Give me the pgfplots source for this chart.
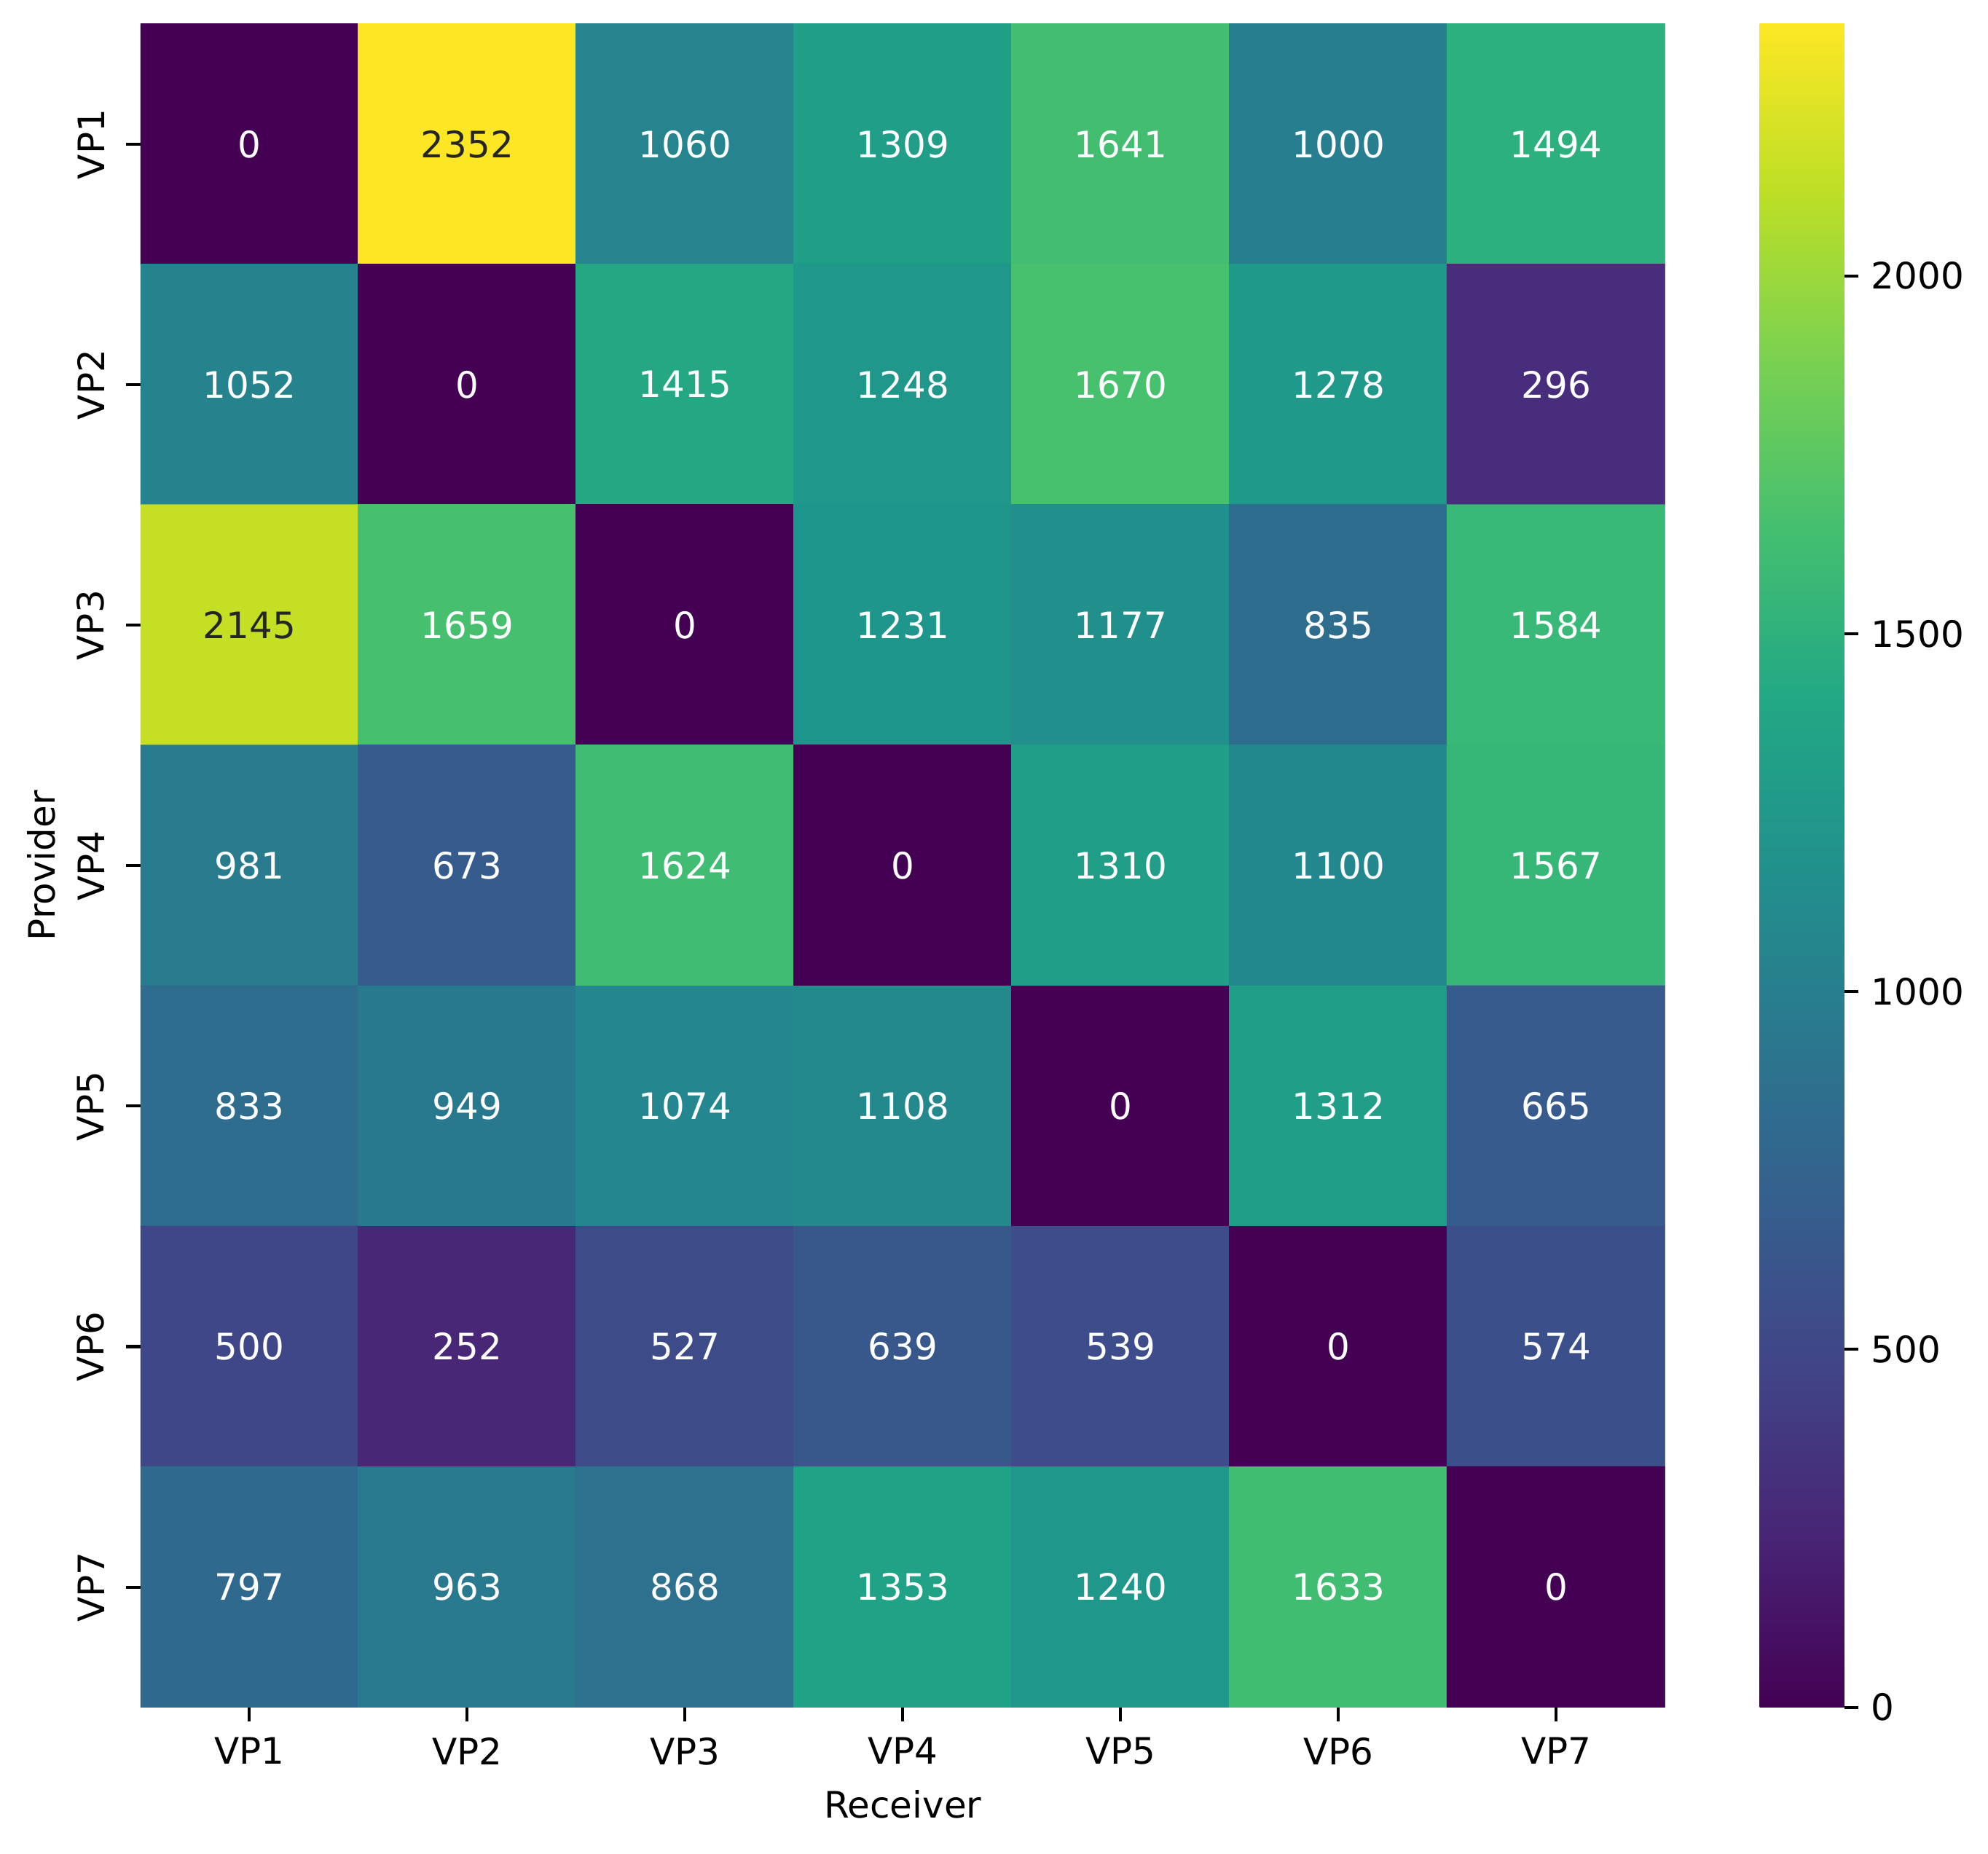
\documentclass[border=0pt]{standalone}
\usepackage{pgfplots}
\pgfplotsset{compat=1.18}
\usepackage{pgfplotstable}
\usepackage{fontspec}
\setmainfont{DejaVu Sans}

\pgfdeclareverticalshading{viridisbar}{100bp}{%
  rgb(0bp)=(0.267,0.004,0.329); rgb(25bp)=(0.267,0.004,0.329);
  rgb(30bp)=(0.282,0.141,0.459); rgb(35bp)=(0.255,0.267,0.529);
  rgb(40bp)=(0.208,0.373,0.553); rgb(45bp)=(0.165,0.471,0.557);
  rgb(50bp)=(0.129,0.569,0.549); rgb(55bp)=(0.133,0.659,0.518);
  rgb(60bp)=(0.267,0.749,0.439); rgb(65bp)=(0.478,0.820,0.318);
  rgb(70bp)=(0.741,0.875,0.149); rgb(75bp)=(0.992,0.906,0.145);
  rgb(100bp)=(0.992,0.906,0.145)}

\pgfplotstableread{
x y c
0 0 0
1 0 2352
2 0 1060
3 0 1309
4 0 1641
5 0 1000
6 0 1494
0 1 1052
1 1 0
2 1 1415
3 1 1248
4 1 1670
5 1 1278
6 1 296
0 2 2145
1 2 1659
2 2 0
3 2 1231
4 2 1177
5 2 835
6 2 1584
0 3 981
1 3 673
2 3 1624
3 3 0
4 3 1310
5 3 1100
6 3 1567
0 4 833
1 4 949
2 4 1074
3 4 1108
4 4 0
5 4 1312
6 4 665
0 5 500
1 5 252
2 5 527
3 5 639
4 5 539
5 5 0
6 5 574
0 6 797
1 6 963
2 6 868
3 6 1353
4 6 1240
5 6 1633
6 6 0
}\heat

\begin{document}
\begin{tikzpicture}[font=\fontsize{12}{14.4}\selectfont]
\useasboundingbox (0,0) rectangle (655pt,610.8pt);
\begin{axis}[
  at={(46.3pt,602.9pt)}, anchor=north west,
  scale only axis, width=502.3pt, height=554.6pt,
  xmin=-0.5, xmax=6.5, ymin=-0.5, ymax=6.5, y dir=reverse,
  enlargelimits=false,
  xtick={0,1,2,3,4,5,6}, ytick={0,1,2,3,4,5,6},
  xticklabels={VP1,VP2,VP3,VP4,VP5,VP6,VP7},
  yticklabels={VP1,VP2,VP3,VP4,VP5,VP6,VP7},
  tick align=outside, tick pos=left,
  major tick length=4.7pt,
  tick style={black, line width=1pt},
  axis line style={draw=none},
  xticklabel style={inner sep=5pt},
  yticklabel style={rotate=90, anchor=south, inner sep=7pt},
  xlabel={Receiver}, ylabel={Provider},
  xlabel style={at={(axis description cs:0.5,-0.0577)}, anchor=center},
  ylabel style={at={(axis description cs:-0.0649,0.5)}, anchor=center},
  colormap name=viridis,
  point meta min=0, point meta max=2352,
  colorbar sampled,
  colorbar style={
    at={(parent axis.north east)}, anchor=north west, xshift=32pt,
    scale only axis, width=5pt, height=554.6pt,
    samples=50, hide axis,
    xtick=\empty, ytick=\empty,
  },
]
\addplot[matrix plot*, mesh/cols=7, point meta=explicit] table[x=x, y=y, meta=c] {\heat};
\addplot[draw=none, mark=none, point meta=explicit symbolic,
  nodes near coords={\ifnum\pgfplotspointmeta>1900 \color{black!85}\else\color{white}\fi\pgfplotspointmeta},
  every node near coord/.append style={anchor=center}]
  table[x=x, y=y, meta=c] {\heat};
\end{axis}
% colour scale
\begin{axis}[
  at={(579.8pt,602.9pt)}, anchor=north west,
  scale only axis, width=27.8pt, height=554.6pt,
  xmin=0, xmax=1, ymin=0, ymax=2352,
  enlargelimits=false,
  axis on top,
  xtick=\empty,
  ytick={0,500,1000,1500,2000},
  yticklabels={0,500,1000,1500,2000},
  tick pos=right, yticklabel pos=right,
  tick align=outside,
  axis line style={draw=none},
  major tick length=4.7pt,
  tick style={black, line width=1pt},
  yticklabel style={inner sep=4pt, anchor=west},
]
\fill[shading=viridisbar] (rel axis cs:0,0) rectangle (rel axis cs:1,1);
\end{axis}
\end{tikzpicture}
\end{document}
